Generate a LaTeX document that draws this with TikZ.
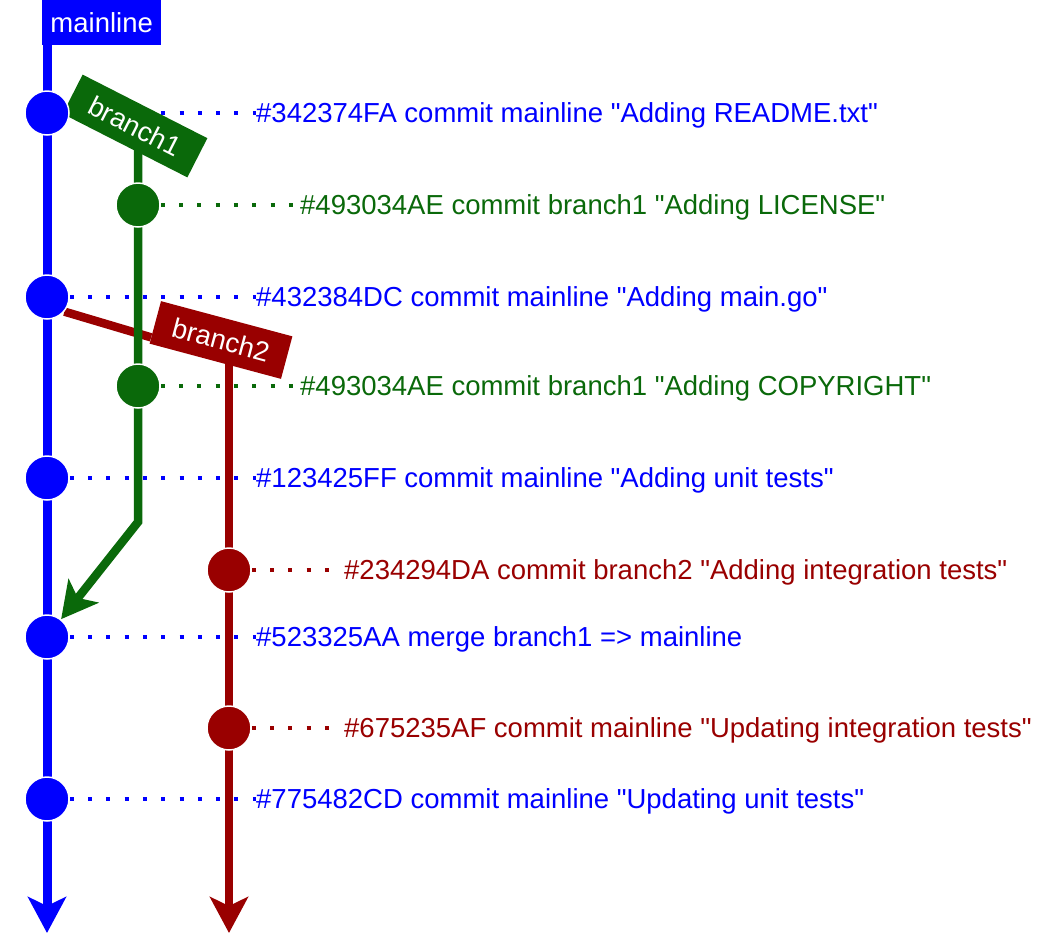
\documentclass[tikz,border=0pt]{standalone}
\usepackage{fontspec}
\setmainfont{Liberation Sans}[Ligatures=TeXOff]
\usepackage{tikz}
\usetikzlibrary{arrows.meta, calc, backgrounds}

\definecolor{gitblue}{HTML}{0000FF}
\definecolor{gitgreen}{HTML}{0A690A}
\definecolor{gitred}{HTML}{990000}

\tikzset{commit/.style={circle, fill=#1, draw=white, line width=1.5pt, minimum size=44pt, inner sep=0pt},
	branchline/.style={#1, line width=8.5pt},
	branchtag/.style={fill=#1, text=white, minimum width=140pt, minimum height=44pt, inner sep=0pt, font=\fontsize{27.5}{27.5}\selectfont},
	commitmsg/.style={text=#1, anchor=west, inner sep=0pt, text height=19.5pt, text depth=0pt, font=\fontsize{27.5}{27.5}\selectfont},
	msgdots/.style={#1, line width=4pt, dash pattern=on 4pt off 14.3pt},
	bigtip/.style={-{Stealth[length=36pt, width=38pt, inset=9pt]}}}

\begin{document}
\begin{tikzpicture}[x=1pt, y=-1pt]
	\useasboundingbox (0,0) rectangle (1052,935);
	
	% branch names
	\node [branchtag=gitblue, anchor=north west, minimum width=119pt, minimum height=45pt] (ml) at (42,0) {mainline};
	\node [branchtag=gitgreen, rotate=-27] (b1) at (135,126) {branch1};
	\node [branchtag=gitred, rotate=-15, minimum width=136pt] (b2) at (221,340) {branch2};
	
	% commits
	\node [commit=gitblue] (m1) at (47,113) {};
	\node [commit=gitgreen] (g1) at (138,205) {};
	\node [commit=gitblue] (m2) at (47,297) {};
	\node [commit=gitgreen] (g2) at (138,386) {};
	\node [commit=gitblue] (m3) at (47,478) {};
	\node [commit=gitred] (r1) at (229,570) {};
	\node [commit=gitblue] (m4) at (47,637) {};
	\node [commit=gitred] (r2) at (229,728) {};
	\node [commit=gitblue] (m5) at (47,799) {};
	
	\coordinate (gk) at (138,522);
	\coordinate (mend) at (47,933);
	\coordinate (rend) at (229,933);
	
	% messages
	\node [commitmsg=gitblue] (t1) at (256,113) {\#342374FA commit mainline "Adding README.txt"};
	\node [commitmsg=gitgreen] (t2) at (300,205) {\#493034AE commit branch1 "Adding LICENSE"};
	\node [commitmsg=gitblue] (t3) at (256,297) {\#432384DC commit mainline "Adding main.go"};
	\node [commitmsg=gitgreen] (t4) at (300,386) {\#493034AE commit branch1 "Adding COPYRIGHT"};
	\node [commitmsg=gitblue] (t5) at (256,478) {\#123425FF commit mainline "Adding unit tests"};
	\node [commitmsg=gitred] (t6) at (344,570) {\#234294DA commit branch2 "Adding integration tests"};
	\node [commitmsg=gitblue] (t7) at (256,637) {\#523325AA merge branch1 => mainline};
	\node [commitmsg=gitred] (t8) at (344,728) {\#675235AF commit mainline "Updating integration tests"};
	\node [commitmsg=gitblue] (t9) at (256,799) {\#775482CD commit mainline "Updating unit tests"};
	
	\begin{pgfonlayer}{background}
		\draw [branchline=gitred] (m2.-40) -- ($(b2.west)!.7!(b2.south west)$);
		\draw [branchline=gitred, bigtip] (b2.center -| r1) -- (r1.center) -- (r2.center) -- (rend);
		\draw [branchline=gitgreen, bigtip] (b1.center -| g1) -- (g1.center) -- (g2.center) -- (gk) -- (m4);
		\draw [branchline=gitblue, line width=9pt, bigtip] (ml.south -| m1) -- (mend);
		
		\draw [msgdots=gitblue] (m1) -- (t1);
		\draw [msgdots=gitgreen] (g1) -- (t2);
		\draw [msgdots=gitblue] (m2) -- (t3);
		\draw [msgdots=gitgreen] (g2) -- (t4);
		\draw [msgdots=gitblue] (m3) -- (t5);
		\draw [msgdots=gitred, shorten >=15pt] (r1) -- (t6);
		\draw [msgdots=gitblue] (m4) -- (t7);
		\draw [msgdots=gitred, shorten >=15pt] (r2) -- (t8);
		\draw [msgdots=gitblue] (m5) -- (t9);
	\end{pgfonlayer}
	
\end{tikzpicture}
\end{document}
